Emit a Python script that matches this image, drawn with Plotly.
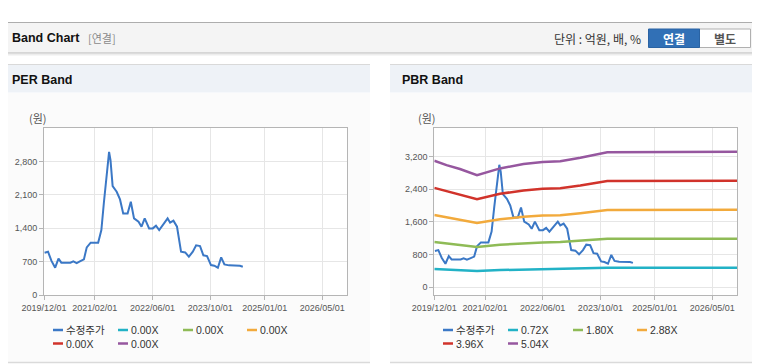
import plotly.graph_objects as go

W, H = 760, 364
OFF = 8  # page body margin compensation

# ---------------- data ----------------
price_dates = ["2019-12-06", "2020-01-04", "2020-02-01", "2020-03-04", "2020-04-01", "2020-04-25",
               "2020-06-07", "2020-07-10", "2020-08-04", "2020-09-01", "2020-09-28", "2020-11-01",
               "2020-11-25", "2020-12-28", "2021-03-01", "2021-03-28", "2021-04-19", "2021-05-10",
               "2021-06-01", "2021-06-13", "2021-07-01", "2021-08-04", "2021-09-01", "2021-09-28",
               "2021-11-04", "2021-12-01", "2021-12-28", "2022-02-04", "2022-03-01", "2022-03-28",
               "2022-05-04", "2022-06-04", "2022-07-01", "2022-07-28", "2022-09-04", "2022-10-07",
               "2022-10-28", "2022-11-25", "2022-12-25", "2023-01-28", "2023-03-04", "2023-04-04",
               "2023-05-07", "2023-06-04", "2023-07-07", "2023-08-04", "2023-09-04", "2023-10-07",
               "2023-11-04", "2023-12-04", "2024-01-01", "2024-01-28", "2024-03-07", "2024-04-16",
               "2024-06-07", "2024-07-01"]
price_vals = [886, 907, 719, 572, 761, 677,
              677, 677, 705, 670, 705, 747,
              998, 1096, 1096, 1361, 1954, 2548,
              3001, 2827, 2282, 2164, 2003, 1710,
              1710, 1954, 1605, 1536, 1431, 1605,
              1396, 1396, 1452, 1361, 1487, 1605,
              1515, 1557, 1431, 907, 893, 803,
              907, 1040, 1026, 831, 817, 628,
              614, 572, 789, 642, 621, 621,
              614, 593]

band_dates = ["2019-12-01", "2020-03-13", "2020-07-04", "2020-11-25", "2021-06-07", "2021-12-22",
              "2022-06-01", "2022-10-28", "2023-04-15", "2023-11-28", "2026-12-01"]
pbr_072 = [443, 428, 414, 392, 416, 431, 438, 441, 454, 473, 474]
pbr_180 = [1107, 1069, 1035, 981, 1040, 1078, 1096, 1103, 1134, 1183, 1186]
pbr_288 = [1771, 1711, 1656, 1570, 1665, 1725, 1754, 1765, 1814, 1892, 1898]
pbr_396 = [2435, 2352, 2277, 2158, 2289, 2372, 2412, 2427, 2495, 2602, 2610]
pbr_504 = [3100, 2994, 2898, 2747, 2913, 3019, 3069, 3090, 3175, 3311, 3321]

per_names = ["수정주가", "0.00X", "0.00X", "0.00X", "0.00X", "0.00X"]
pbr_names = ["수정주가", "0.72X", "1.80X", "2.88X", "3.96X", "5.04X"]
series_colors = ["#3b78c6", "#22b2c6", "#8fbb56", "#f2aa3c", "#d1332b", "#96579f"]

x_tick_labels = ["2019/12/01", "2021/02/01", "2022/06/01", "2023/10/01", "2025/01/01", "2026/05/01"]
per_y_ticks = [0, 700, 1400, 2100, 2800]
pbr_y_ticks = [0, 800, 1600, 2400, 3200]
unit_label = "(원)"

# ---------------- helpers ----------------
def px(x):
    return (x - OFF) / W

def py(y):
    return 1 - (y - OFF) / H

x_tick_vals = [t.replace("/", "-") for t in x_tick_labels]
x_range = ["2019-12-01", "2026-11-28"]

fig = go.Figure()

# PER chart: price only
fig.add_trace(go.Scatter(x=price_dates, y=price_vals, mode="lines", name=per_names[0],
                         line=dict(color=series_colors[0], width=2), xaxis="x", yaxis="y",
                         showlegend=False))

# PBR chart: price + bands
fig.add_trace(go.Scatter(x=price_dates, y=price_vals, mode="lines", name=pbr_names[0],
                         line=dict(color=series_colors[0], width=2), xaxis="x2", yaxis="y2",
                         showlegend=False))
for nm, vals, col in zip(pbr_names[1:], [pbr_072, pbr_180, pbr_288, pbr_396, pbr_504], series_colors[1:]):
    fig.add_trace(go.Scatter(x=band_dates, y=vals, mode="lines", name=nm,
                             line=dict(color=col, width=2.5), xaxis="x2", yaxis="y2",
                             showlegend=False))

tickfont = dict(family="Liberation Sans, Arial, sans-serif", size=9, color="#555")

def xaxis_cfg(x0, x1):
    return dict(domain=[px(x0), px(x1)], type="date", range=x_range,
                tickvals=x_tick_vals, ticktext=x_tick_labels, tickfont=tickfont,
                showgrid=True, gridcolor="#e6e6e6", gridwidth=1,
                showline=True, linecolor="#b5b5b5", linewidth=1, mirror=True,
                ticks="outside", ticklen=4, tickcolor="#b5b5b5", zeroline=False,
                fixedrange=True, automargin=False)

def yaxis_cfg(rng, ticks):
    return dict(domain=[py(295), py(128)], range=rng, tickvals=ticks,
                ticktext=[f"{v:,}" for v in ticks], tickfont=tickfont,
                showgrid=True, gridcolor="#e6e6e6", gridwidth=1,
                showline=True, linecolor="#b5b5b5", linewidth=1, mirror=True,
                ticks="outside", ticklen=4, tickcolor="#b5b5b5", zeroline=False,
                fixedrange=True, automargin=False)

shapes = []
ann = []

def rect(x0, y0, x1, y1, fill, line=None, lw=0):
    shapes.append(dict(type="rect", xref="paper", yref="paper", x0=px(x0), x1=px(x1),
                       y0=py(y1), y1=py(y0), fillcolor=fill,
                       line=dict(color=line or fill, width=lw), layer="below"))

def hline(x0, x1, y, color, width=1):
    shapes.append(dict(type="line", xref="paper", yref="paper", x0=px(x0), x1=px(x1),
                       y0=py(y), y1=py(y), line=dict(color=color, width=width), layer="below"))

def text(x, y, s, size=12, color="#000", bold=False, xanchor="left", family="Noto Sans CJK KR, Liberation Sans, sans-serif"):
    ann.append(dict(x=px(x), y=py(y), xref="paper", yref="paper", text=(f"<b>{s}</b>" if bold else s),
                    showarrow=False, xanchor=xanchor, yanchor="middle", borderpad=0,
                    font=dict(size=size, color=color, family=family)))

# top header bar
rect(-10, 22, 770, 53, "#f4f4f4")
hline(-10, 770, 22.5, "#adadad", 1)
hline(-10, 770, 53, "#b8b8b8", 1)
hline(-10, 770, 54, "#dcdcdc", 1)
hline(-10, 770, 55, "#ededed", 1)
text(11, 38, "Band Chart", 12.5, "#111", True, family="Liberation Sans, Arial, sans-serif")
text(87, 38, "[연결]", 11, "#8a8a8a")
text(642, 38, "단위 : 억원, 배, %", 12, "#333", xanchor="right")
# buttons
rect(699, 29, 750.5, 47.5, "#ffffff", "#b0b0b0", 1)
rect(648.5, 29, 699.5, 47.5, "#3170b6", "#2a63a3", 1)
text(674, 38.5, "연결", 12, "#ffffff", True, xanchor="center")
text(725, 38.5, "별도", 12, "#555555", True, xanchor="center")

# panels
for (x0, x1, title) in [(-10, 370, "PER Band"), (390, 770, "PBR Band")]:
    rect(x0, 93, x1, 362, "#fbfbfb")
    rect(x0, 64.5, x1, 92.5, "#eef2f7")
    hline(x0, x1, 64.5, "#d9d9d9", 1)
    hline(x0, x1, 362.5, "#dadada", 1.5)
    text(max(x0, 0) + 11, 80, title, 12.5, "#111", True, family="Liberation Sans, Arial, sans-serif")

# plot area backgrounds
rect(44, 128, 347.3, 295, "#ffffff")
rect(434.3, 128, 737.3, 295, "#ffffff")

# unit labels
text(28, 118, unit_label, 11, "#555")
text(417, 118, unit_label, 11, "#555")

# custom legends
leg_slots = [(53, 330), (118, 330), (183, 330), (247, 330), (53, 343.5), (118, 343.5)]
for off, names in [(0, per_names), (390, pbr_names)]:
    for (sx, sy), nm, col in zip(leg_slots, names, series_colors):
        shapes.append(dict(type="line", xref="paper", yref="paper", x0=px(sx + off), x1=px(sx + off + 10),
                           y0=py(sy), y1=py(sy), line=dict(color=col, width=2.5)))
        text(sx + off + 12, sy, nm, 10.5, "#333", family="Liberation Sans, Noto Sans CJK KR, sans-serif")

fig.update_layout(
    width=W, height=H, margin=dict(l=0, r=0, t=0, b=0, pad=0, autoexpand=False),
    paper_bgcolor="#ffffff", plot_bgcolor="rgba(0,0,0,0)",
    xaxis=xaxis_cfg(44, 347.3), yaxis=yaxis_cfg([0, 3500], per_y_ticks),
    xaxis2=xaxis_cfg(434.3, 737.3), yaxis2=yaxis_cfg([-196, 3905], pbr_y_ticks),
    shapes=shapes, annotations=ann, showlegend=False, hovermode=False,
)
fig.update_layout(xaxis2=dict(anchor="y2"), yaxis2=dict(anchor="x2"))

fig.write_html("out.html", config={"displayModeBar": False})
